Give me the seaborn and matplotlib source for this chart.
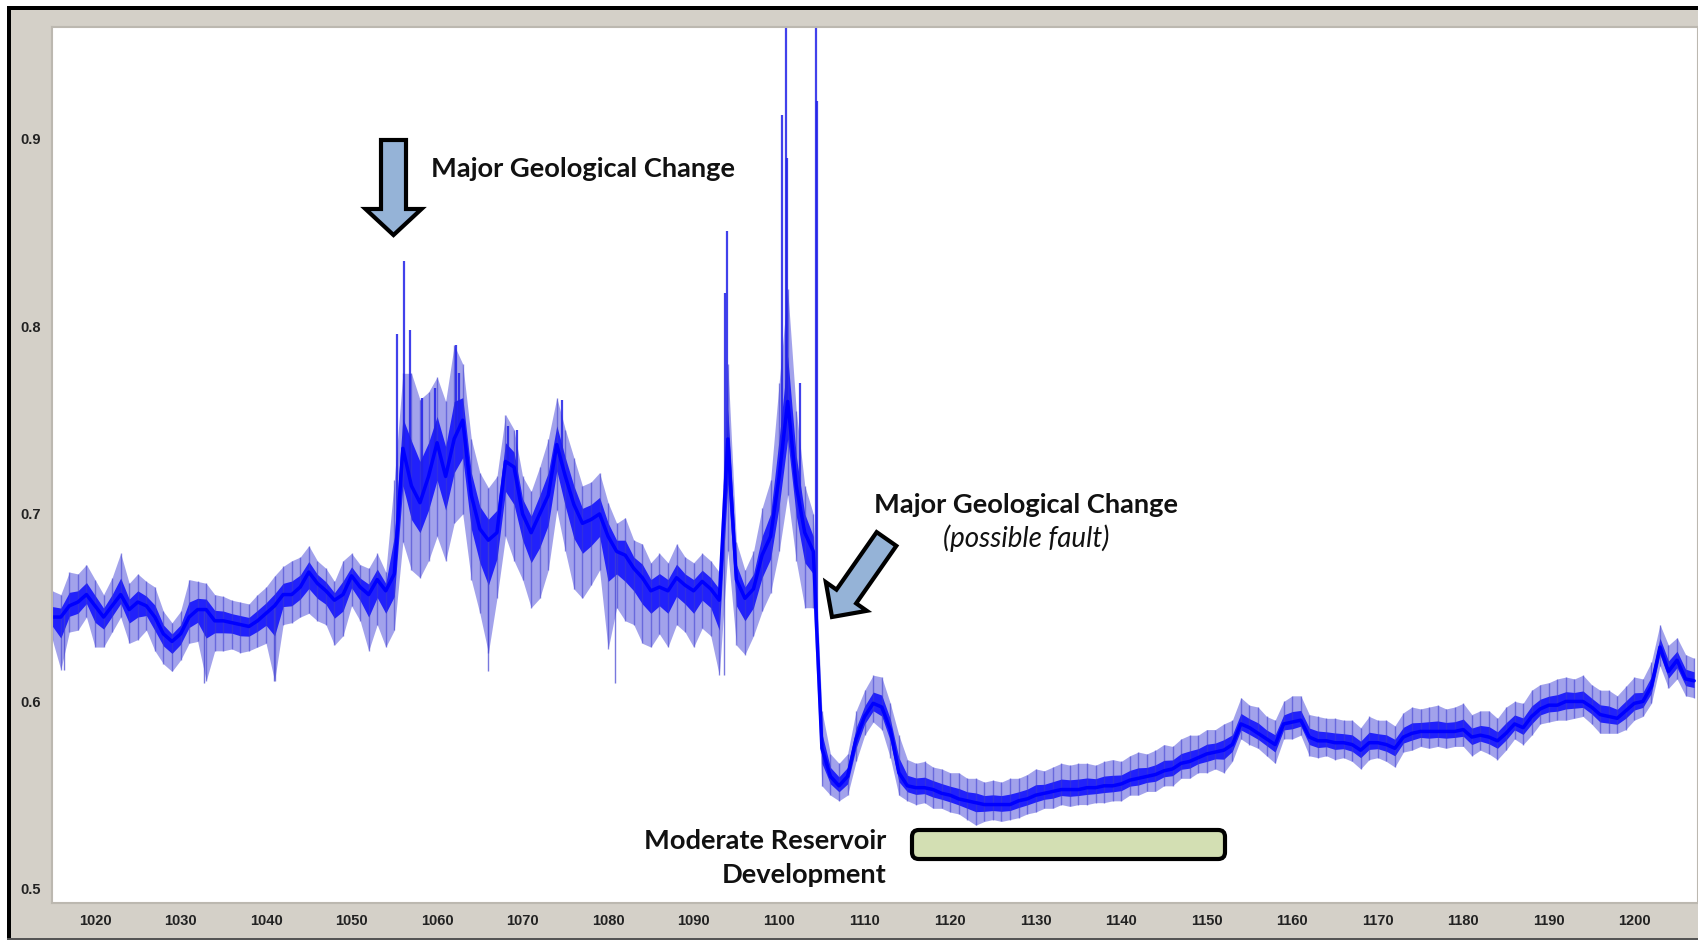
"""
Perfil de poço com anotações geológicas.
Saída: out.png (1698x940)
"""
import numpy as np
import pandas as pd
import matplotlib
matplotlib.use("Agg")
import matplotlib.pyplot as plt
import matplotlib.patches as mpatches
import seaborn as sns

W, H = 1698, 940
PAINEL = '#d4d0c8'

# profundidade 1015..1207, passo 1
prof_ini = 1015
nucleo = [
    0.645, 0.645, 0.651, 0.653, 0.657, 0.651, 0.645, 0.651, 0.657, 0.649,
    0.653, 0.651, 0.645, 0.636, 0.632, 0.636, 0.645, 0.649, 0.649, 0.643,
    0.643, 0.642, 0.641, 0.640, 0.643, 0.647, 0.651, 0.657, 0.657, 0.661,
    0.669, 0.663, 0.659, 0.654, 0.657, 0.667, 0.661, 0.657, 0.665, 0.659,
    0.668, 0.735, 0.715, 0.706, 0.720, 0.738, 0.720, 0.740, 0.750, 0.710,
    0.692, 0.686, 0.690, 0.728, 0.725, 0.700, 0.690, 0.700, 0.710, 0.737,
    0.720, 0.705, 0.695, 0.697, 0.700, 0.688, 0.680, 0.678, 0.671, 0.666,
    0.659, 0.661, 0.659, 0.666, 0.662, 0.659, 0.664, 0.660, 0.654, 0.740,
    0.665, 0.655, 0.660, 0.678, 0.688, 0.720, 0.760, 0.715, 0.690, 0.680,
    0.575, 0.560, 0.555, 0.560, 0.580, 0.592, 0.599, 0.597, 0.585, 0.562,
    0.555, 0.554, 0.554, 0.553, 0.551, 0.550, 0.548, 0.547, 0.546, 0.545,
    0.545, 0.545, 0.545, 0.547, 0.548, 0.550, 0.551, 0.552, 0.553, 0.553,
    0.553, 0.554, 0.554, 0.555, 0.555, 0.556, 0.558, 0.559, 0.560, 0.561,
    0.563, 0.564, 0.567, 0.568, 0.570, 0.572, 0.573, 0.574, 0.577, 0.588,
    0.586, 0.583, 0.580, 0.577, 0.588, 0.589, 0.590, 0.581, 0.579, 0.579,
    0.578, 0.578, 0.577, 0.574, 0.578, 0.578, 0.577, 0.575, 0.581, 0.583,
    0.584, 0.584, 0.584, 0.584, 0.584, 0.585, 0.581, 0.582, 0.581, 0.579,
    0.583, 0.588, 0.586, 0.592, 0.596, 0.598, 0.598, 0.600, 0.600, 0.600,
    0.597, 0.593, 0.592, 0.591, 0.595, 0.599, 0.600, 0.608, 0.629, 0.616,
    0.622, 0.612, 0.611,
]
# ruído acima / abaixo do núcleo (milésimos)
acima = [
    14, 12, 18, 15, 16, 14, 12, 15, 22, 14,
    15, 13, 16, 12, 10, 12, 20, 15, 14, 14,
    13, 12, 12, 12, 14, 14, 16, 15, 18, 16,
    14, 12, 12, 10, 18, 12, 12, 14, 14, 10,
    50, 40, 60, 55, 45, 35, 40, 50, 30, 30,
    30, 28, 30, 25, 20, 20, 22, 25, 30, 25,
    25, 25, 20, 20, 22, 18, 15, 20, 15, 18,
    15, 18, 15, 18, 15, 15, 15, 15, 15, 40,
    20, 15, 20, 25, 30, 50, 60, 40, 25, 20,
    20, 12, 12, 12, 15, 14, 15, 16, 14, 20,
    14, 13, 14, 12, 13, 12, 14, 12, 13, 12,
    13, 12, 14, 12, 13, 14, 12, 13, 14, 13,
    14, 13, 12, 13, 14, 12, 13, 14, 12, 13,
    14, 12, 13, 14, 12, 13, 12, 14, 13, 14,
    12, 14, 12, 13, 12, 14, 13, 12, 13, 12,
    13, 12, 13, 12, 14, 12, 13, 12, 13, 14,
    12, 13, 14, 12, 13, 14, 12, 13, 14, 12,
    14, 12, 13, 14, 13, 12, 14, 13, 12, 14,
    12, 13, 14, 12, 13, 14, 12, 13, 12, 14,
    12, 13, 12,
]
abaixo = [
    12, 28, 14, 15, 12, 22, 16, 14, 12, 18,
    20, 13, 18, 16, 16, 14, 14, 17, 38, 16,
    16, 14, 15, 13, 14, 16, 40, 16, 15, 16,
    22, 20, 18, 24, 22, 16, 18, 30, 24, 30,
    30, 50, 45, 40, 45, 50, 45, 45, 50, 45,
    45, 60, 35, 40, 50, 35, 40, 45, 40, 35,
    40, 45, 40, 35, 30, 60, 30, 35, 30, 35,
    30, 25, 30, 25, 25, 30, 25, 25, 40, 60,
    35, 30, 25, 30, 30, 40, 50, 40, 40, 30,
    20, 10, 8, 10, 12, 10, 10, 12, 15, 12,
    8, 9, 8, 10, 8, 9, 8, 10, 12, 9,
    8, 9, 8, 9, 8, 9, 8, 9, 8, 9,
    8, 9, 8, 9, 8, 9, 8, 9, 8, 9,
    8, 9, 8, 9, 8, 10, 9, 12, 9, 8,
    9, 8, 9, 10, 8, 9, 8, 10, 9, 8,
    9, 8, 9, 10, 9, 8, 9, 10, 8, 9,
    8, 9, 8, 9, 8, 9, 10, 8, 9, 10,
    9, 8, 9, 10, 8, 9, 8, 10, 9, 8,
    9, 10, 9, 8, 10, 9, 8, 9, 10, 9,
    10, 9, 9,
]

# picos isolados
picos_x = [1055.3, 1056.1, 1056.8, 1058.2, 1059.7, 1062.2, 1062.6, 1068.3,
           1069.3, 1074.6, 1093.7, 1093.9, 1100.3, 1100.8, 1100.9, 1102.4,
           1104.3, 1104.4]
picos_y = [0.796, 0.835, 0.798, 0.762, 0.767, 0.790, 0.775, 0.747,
           0.745, 0.761, 0.818, 0.851, 0.913, 0.970, 0.890, 0.770,
           0.970, 0.920]
vales_x = [1016.4, 1032.7, 1040.9, 1065.9, 1080.8, 1093.5]
vales_y = [0.617, 0.610, 0.611, 0.616, 0.610, 0.614]

xticks = list(range(1020, 1201, 10))
yticks = [0.5, 0.6, 0.7, 0.8, 0.9]


def px(x, y):
    return x / W, 1 - y / H


def seta(cauda, ponta, haste, cabeca, comp):
    t = np.array(cauda, float)
    p = np.array(ponta, float)
    u = (p - t) / np.linalg.norm(p - t)
    n = np.array([-u[1], u[0]])
    b = p - u * comp
    pts = [t + n * haste, b + n * haste, b + n * cabeca, p,
           b - n * cabeca, b - n * haste, t - n * haste]
    return [px(*q) for q in pts]


sns.set_style("white")
plt.rcParams['font.family'] = ['Liberation Sans', 'DejaVu Sans']

df = pd.DataFrame({'prof': np.arange(prof_ini, prof_ini + len(nucleo)),
                   'nucleo': nucleo})
df['topo'] = df['nucleo'] + np.array(acima) / 1000
df['base'] = df['nucleo'] - np.array(abaixo) / 1000
# faixa densa (traço saturado) em torno do núcleo
df['topo_d'] = df['nucleo'] + np.array(acima) / 1000 * 0.4
df['base_d'] = df['nucleo'] - np.array(abaixo) / 1000 * 0.4

fig = plt.figure(figsize=(W / 100, H / 100), dpi=100, facecolor=PAINEL)
ax = fig.add_axes([52 / W, 1 - 903 / H, 1 - 52 / W, (903 - 27) / H])
ax.set_facecolor('white')

ax.fill_between(df['prof'], df['base'], df['topo'], color='#4646d8', alpha=0.5, lw=0)
ax.vlines(df['prof'], df['base'], df['topo'], color='#3a3ad0', lw=1.0, alpha=0.55)
ax.fill_between(df['prof'], df['base_d'], df['topo_d'], color='#0a0aff', alpha=0.85, lw=0)
ax.vlines(picos_x, np.interp(picos_x, df['prof'], df['nucleo']), picos_y,
          color='#2020e8', lw=1.6, alpha=0.85)
ax.vlines(vales_x, vales_y, np.interp(vales_x, df['prof'], df['nucleo']),
          color='#4040d0', lw=1.0, alpha=0.7)
sns.lineplot(data=df, x='prof', y='nucleo', color='#0000ff', lw=2.5, ax=ax)

ax.set_xlim(1014.97, 1207.45)
ax.set_ylim(0.4925, 0.9597)
ax.set_xticks(xticks)
ax.set_yticks(yticks)
ax.set_xticklabels([str(v) for v in xticks])
ax.set_yticklabels([f'{v:.1f}' for v in yticks])
ax.set_xlabel('')
ax.set_ylabel('')
ax.tick_params(direction='out', length=3, width=0.8, color='#999999', pad=5,
               labelsize=10.5, labelcolor='#222222')
for lb in ax.get_xticklabels() + ax.get_yticklabels():
    lb.set_fontweight('bold')
for s in ax.spines.values():
    s.set_color('#bcb8b0')
    s.set_linewidth(1.5)

# moldura
fig.add_artist(mpatches.Rectangle((0, 1 - 6 / H), 1, 6 / H, transform=fig.transFigure,
                                  fc='white', ec='none'))
fig.add_artist(mpatches.Rectangle((0, 0), 7 / W, 1, transform=fig.transFigure,
                                  fc='white', ec='none'))
fig.add_artist(mpatches.Rectangle((7 / W, 1 - 10 / H), 1, 4 / H, transform=fig.transFigure,
                                  fc='black', ec='none'))
fig.add_artist(mpatches.Rectangle((7 / W, 0), 4 / W, 1 - 6 / H, transform=fig.transFigure,
                                  fc='black', ec='none'))
fig.add_artist(mpatches.Rectangle((7 / W, 0), 1, 2.5 / H, transform=fig.transFigure,
                                  fc='#555555', ec='none'))

# setas
azul = '#95b3d7'
fig.add_artist(mpatches.Polygon(seta((393.5, 140), (393.5, 235), 12.5, 28, 26),
                                closed=True, transform=fig.transFigure,
                                fc=azul, ec='black', lw=3, joinstyle='miter'))
fig.add_artist(mpatches.Polygon(seta((886.5, 539), (832, 617), 12, 25, 25),
                                closed=True, transform=fig.transFigure,
                                fc=azul, ec='black', lw=3, joinstyle='miter'))

# caixa do reservatório
x0, y0 = px(912, 859)
fig.add_artist(mpatches.FancyBboxPatch((x0, y0), (1225 - 912) / W, (859 - 830) / H,
                                       boxstyle='round,pad=0,rounding_size=0.004',
                                       mutation_aspect=W / H, transform=fig.transFigure,
                                       fc='#d3dfb3', ec='black', lw=3))

fonte = ['Lato', 'DejaVu Sans']
fig.text(*px(431, 169), 'Major Geological Change', ha='left', va='center',
         fontsize=19.6, fontweight='bold', family=fonte, color='#111111')
fig.text(*px(1026, 505), 'Major Geological Change', ha='center', va='center',
         fontsize=19.6, fontweight='bold', family=fonte, color='#111111')
fig.text(*px(1026, 538), '(possible fault)', ha='center', va='center',
         fontsize=20, fontstyle='italic', family=fonte, color='#111111')
fig.text(*px(886, 841), 'Moderate Reservoir', ha='right', va='center',
         fontsize=19.6, fontweight='bold', family=fonte, color='#111111')
fig.text(*px(886, 875), 'Development', ha='right', va='center',
         fontsize=19.6, fontweight='bold', family=fonte, color='#111111')

fig.savefig('out.png', dpi=100, facecolor=fig.get_facecolor())
plt.close(fig)
